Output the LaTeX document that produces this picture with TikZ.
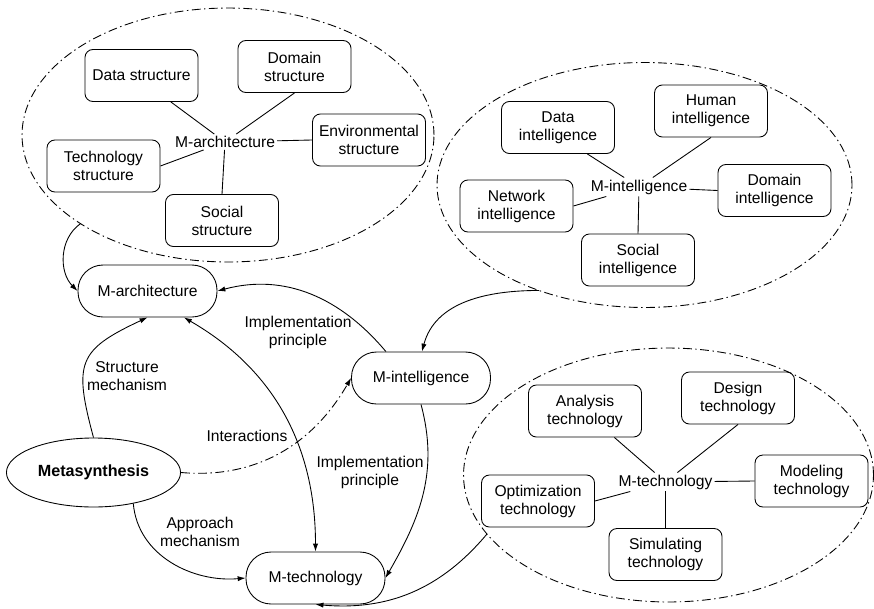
\documentclass[tikz,border=0pt]{standalone}
\usepackage{fontspec}
\setmainfont{Liberation Sans}
\usetikzlibrary{arrows.meta,shapes.geometric}

\begin{document}
\begin{tikzpicture}[x=0.02cm,y=0.02cm,line width=0.5pt,
  font=\fontsize{8.9}{10.2}\selectfont,
  >={Latex[length=4.5pt,width=3pt]},
  item/.style={draw,rounded corners=4.5pt,align=center,
    minimum width=2.26cm,minimum height=1.04cm,inner sep=1pt},
  hub/.style={draw,rounded corners=0.5cm,minimum width=2.78cm,
    minimum height=1.04cm},
  centre/.style={inner sep=1pt},
  dashdot/.style={dash pattern=on 5pt off 2pt on 0.8pt off 2pt},
  cluster/.style={draw,ellipse,dashdot,outer sep=0pt},
  tag/.style={align=center},
  link/.style={->}]

  \useasboundingbox (0,0) rectangle (874,-608);

  % the three groups
  \node[cluster,minimum width=8.24cm,minimum height=5.08cm] (archgrp) at (228,-135) {};
  \node[cluster,minimum width=8.3cm,minimum height=4.9cm] (intgrp) at (644.5,-185) {};
  \node[cluster,minimum width=8.2cm,minimum height=5.08cm] (tecgrp) at (668.5,-475) {};

  % architecture group
  \node[centre] (amid) at (225,-142) {M-architecture};
  \node[item] (datastr) at (141.5,-75.5) {Data structure};
  \node[item] (domstr) at (294.5,-66.5) {Domain\\structure};
  \node[item] (envstr) at (369,-140) {Environmental\\structure};
  \node[item] (techstr) at (103.5,-166) {Technology\\structure};
  \node[item] (socstr) at (222,-220.5) {Social\\structure};
  \draw (datastr.-42) -- (amid); \draw (domstr.south) -- (amid);
  \draw (envstr.west) -- (amid); \draw (techstr.east) -- (amid);
  \draw (socstr.north) -- (amid);

  % intelligence group
  \node[centre] (imid) at (639,-187) {M-intelligence};
  \node[item] (dataint) at (558,-127.5) {Data\\intelligence};
  \node[item] (humint) at (711,-111) {Human\\intelligence};
  \node[item] (domint) at (774.5,-190.5) {Domain\\intelligence};
  \node[item] (netint) at (516.5,-206) {Network\\intelligence};
  \node[item] (socint) at (638,-260) {Social\\intelligence};
  \draw (dataint.-42) -- (imid); \draw (humint.south) -- (imid);
  \draw (domint.west) -- (imid); \draw (netint.east) -- (imid);
  \draw (socint.north) -- (imid);

  % technology group
  \node[centre] (tmid) at (665.5,-482) {M-technology};
  \node[item] (anatech) at (585,-411) {Analysis\\technology};
  \node[item] (destech) at (738,-398) {Design\\technology};
  \node[item] (modtech) at (811.5,-481) {Modeling\\technology};
  \node[item] (opttech) at (538,-501) {Optimization\\technology};
  \node[item] (simtech) at (665.5,-554.5) {Simulating\\technology};
  \draw (anatech.-42) -- (tmid); \draw (destech.south) -- (tmid);
  \draw (modtech.west) -- (tmid); \draw (opttech.east) -- (tmid);
  \draw (simtech.north) -- (tmid);

  % main nodes
  \node[hub] (march) at (147.5,-291) {M-architecture};
  \node[hub] (mint) at (421,-378) {M-intelligence};
  \node[hub] (mtech) at (315.5,-578) {M-technology};
  \node[draw,ellipse,minimum width=3.42cm,minimum height=1.38cm,
    font=\fontsize{9.2}{11}\selectfont\bfseries] (meta) at (93.5,-472.5) {Metasynthesis};

  % connections
  \draw[link] (archgrp.211) to[out=215,in=135] (march.west);
  \draw[link] (intgrp.225) to[out=180,in=75] (mint.88);
  \draw[link] (tecgrp.198) to[out=230,in=-5] (mtech.south);
  \draw[link] (mint.143) to[out=130,in=15] (march.east);
  \draw[link] (meta.north) to[out=105,in=205,looseness=1.5] (march.south);
  \draw[<->] (march.-36) to[out=-30,in=90] (mtech.north);
  \draw[link,dashdot] (meta.east) to[out=-5,in=240] (mint.west);
  \draw[link] (mint.south) to[out=-75,in=60] (mtech.east);
  \draw[link] (meta.-38) to[out=-85,in=185] (mtech.west);

  % labels
  \node[tag] (lstruct) at (127,-376) {Structure\\mechanism};
  \node[tag] (limpl) at (298,-332) {Implementation\\principle};
  \node[tag] (linter) at (247,-436) {Interactions};
  \node[tag] (limpl2) at (370,-472) {Implementation\\principle};
  \node[tag] (lappr) at (200,-532) {Approach\\mechanism};
\end{tikzpicture}
\end{document}
